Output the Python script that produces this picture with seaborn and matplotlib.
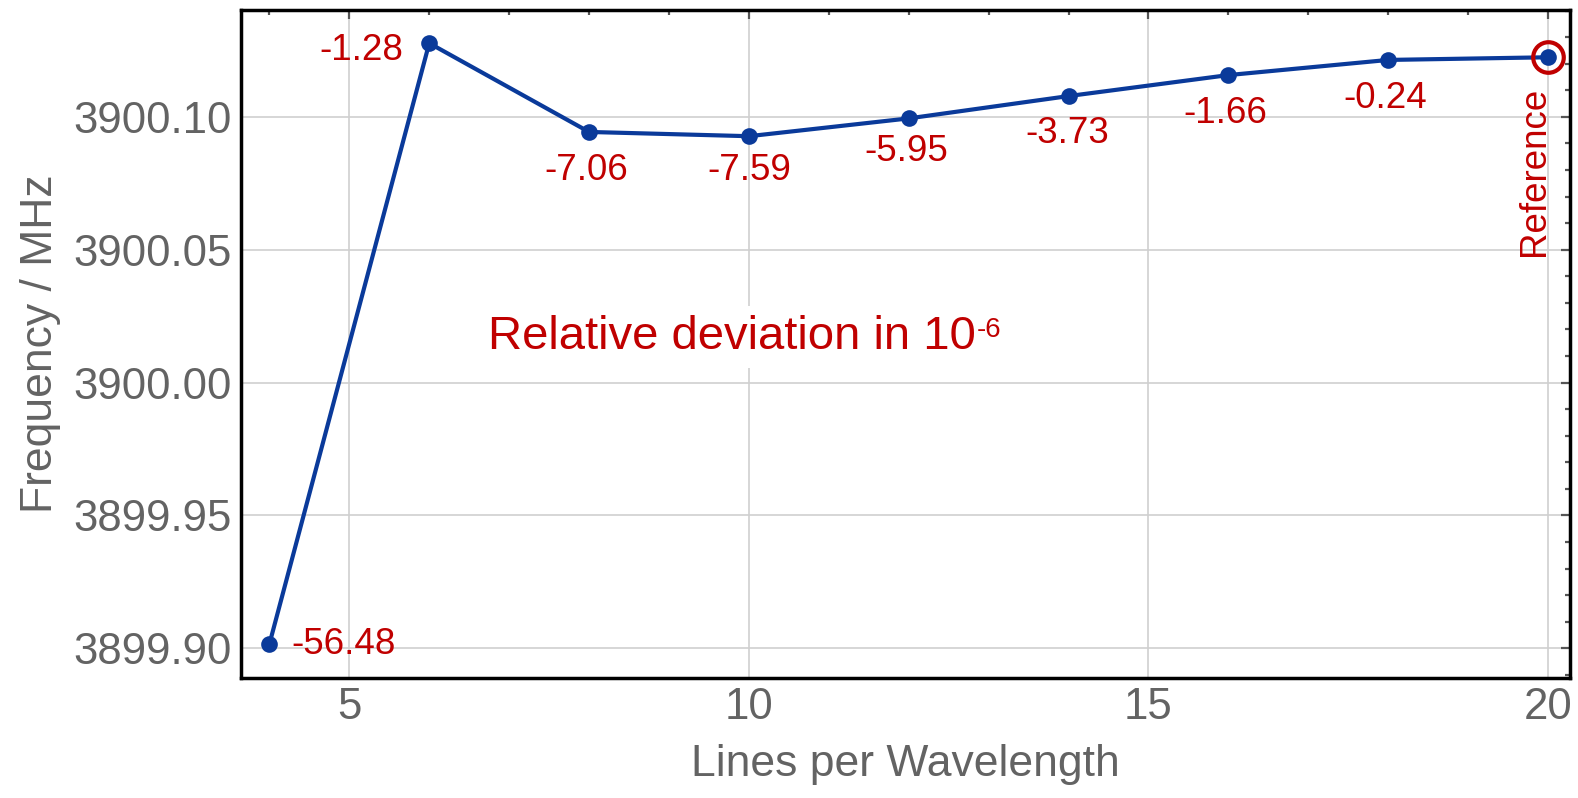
import matplotlib
matplotlib.use("Agg")
import matplotlib.pyplot as plt
from matplotlib.ticker import MultipleLocator, FormatStrFormatter
import seaborn as sns
import pandas as pd

# ---- data ----
lines_per_wavelength = [4, 6, 8, 10, 12, 14, 16, 18, 20]
frequency_mhz = [3899.9016, 3900.1277, 3900.0943, 3900.0927, 3900.0994,
                 3900.1078, 3900.1157, 3900.1214, 3900.1224]
deviation_labels = ["-56.48", "-1.28", "-7.06", "-7.59", "-5.95",
                    "-3.73", "-1.66", "-0.24", "Reference"]
x_ticks = [5, 10, 15, 20]
y_ticks = [3899.90, 3899.95, 3900.00, 3900.05, 3900.10]

df = pd.DataFrame({"lines": lines_per_wavelength, "freq": frequency_mhz})

sns.set_theme(style="white")
plt.rcParams["font.family"] = ["Liberation Sans", "DejaVu Sans"]

BLUE = "#0a3a9a"
RED = "#c00000"
GRAY = "#636363"

fig = plt.figure(figsize=(15.78, 7.98), dpi=100)
ax = fig.add_axes([0.1527, 0.15, 0.8425, 0.8375])

sns.lineplot(data=df, x="lines", y="freq", ax=ax, color=BLUE, lw=3.0,
             marker="o", markersize=12, markeredgewidth=0, zorder=3)

# reference ring
ax.plot(df["lines"].iloc[-1:], df["freq"].iloc[-1:], linestyle="none",
        marker="o", mfc="none", mec=RED, ms=22, mew=3.0, zorder=4)

ax.set_xlim(3.644, 20.28)
ax.set_ylim(3899.8887, 3900.1402)
ax.set_xticks(x_ticks)
ax.set_yticks(y_ticks)
ax.xaxis.set_minor_locator(MultipleLocator(1))
ax.yaxis.set_minor_locator(MultipleLocator(0.01))
ax.yaxis.set_major_formatter(FormatStrFormatter("%.2f"))

ax.grid(True, which="major", color="#cfcfcf", lw=1.2)
ax.set_axisbelow(True)

for s in ax.spines.values():
    s.set_color("black")
    s.set_linewidth(2.5)

ax.tick_params(which="both", direction="in", top=True, right=True,
               color="#555555", labelcolor=GRAY)
ax.tick_params(which="major", length=6.5, width=1.6, labelsize=31.5, pad=6.5)
ax.tick_params(which="minor", length=3.5, width=1.6)

ax.set_xlabel("Lines per Wavelength", fontsize=32, color=GRAY, labelpad=11)
ax.set_ylabel("Frequency / MHz", fontsize=32, color=GRAY, labelpad=9)

# deviation labels (offsets in points)
offsets = [(15.6, 0), (-18.7, -5), (-2, -27.6), (0, -24.5), (-1.9, -24),
           (-1.2, -26.9), (-2.2, -27.6), (-2.4, -27.6)]
aligns = ["left", "right", "center", "center", "center", "center",
          "center", "center"]
for xv, yv, lab, off, ha in zip(lines_per_wavelength[:-1], frequency_mhz[:-1],
                                deviation_labels[:-1], offsets, aligns):
    ax.annotate(lab, (xv, yv), xytext=off, textcoords="offset points",
                ha=ha, va="center", fontsize=26.5, color=RED, zorder=5)

ax.annotate(deviation_labels[-1], (lines_per_wavelength[-1], frequency_mhz[-1]),
            xytext=(-9.6, -21.2), textcoords="offset points", rotation=90,
            ha="center", va="top", fontsize=26.5, color=RED, zorder=5)

main = ax.text(0.1858, 0.4927, "Relative deviation in 10", transform=ax.transAxes,
               ha="left", va="baseline", fontsize=34, color=RED, zorder=5,
               bbox=dict(boxstyle="square,pad=0.2", fc="white", ec="none"))
ax.annotate("-6", xy=(1, 0), xycoords=main, xytext=(1, 16.0),
            textcoords="offset points", ha="left", va="baseline",
            fontsize=20, color=RED, zorder=6)

fig.savefig("out.png", dpi=100)
